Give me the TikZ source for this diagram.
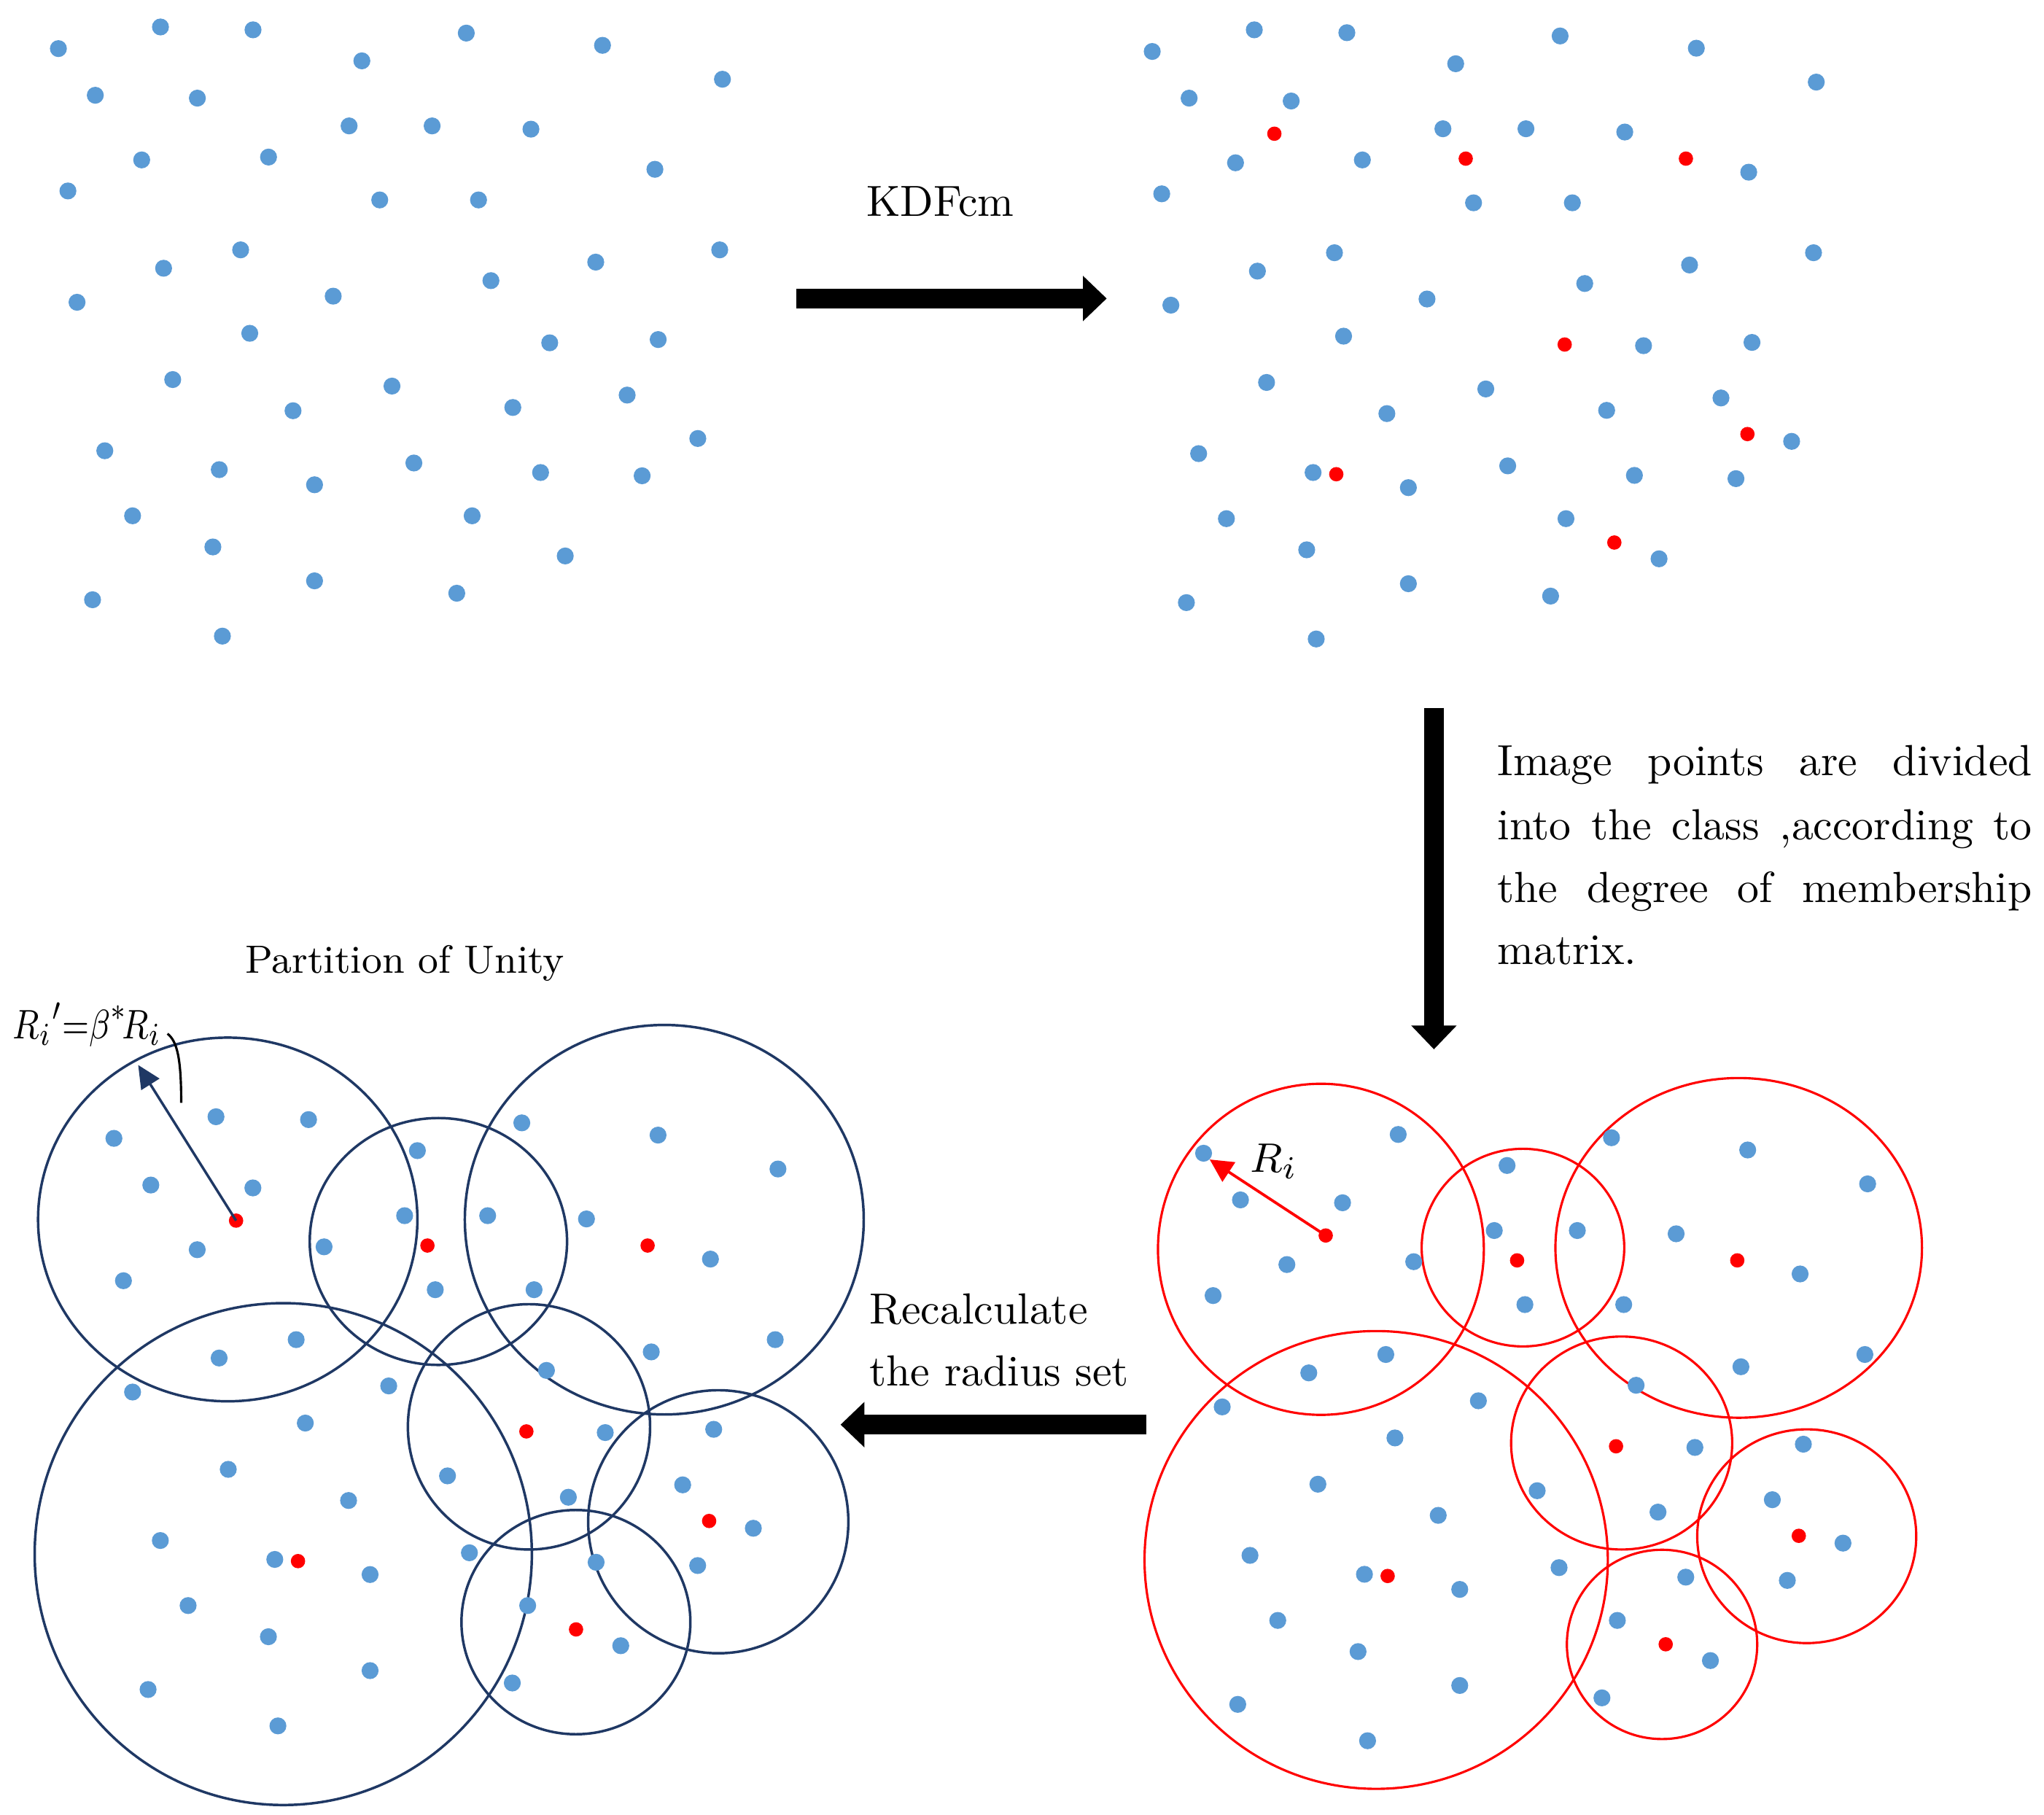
\documentclass[tikz,border=0pt]{standalone}
\usetikzlibrary{arrows.meta}
\definecolor{dotblue}{RGB}{91,155,213}
\definecolor{navyline}{RGB}{31,56,100}
\definecolor{purered}{RGB}{255,0,0}
\newcommand{\baseblue}{44.8/37.3,194.1/22.9,277.6/46.7,357.7/25.4,462.2/34.8,554.2/60.8,73.1/73.1,151.4/75.3,267.8/96.6,331.5/96.6,407.3/99.1,108.7/122.7,206/120.5,502.4/129.9,52.1/146.5,291.3/153.4,367.1/153.4,184.6/191.7,125.5/205.8,552.1/191.7,457/201.1,376.6/215.3,255.6/227.2,59.1/231.9,191.6/255.7,421.7/263,504.9/260.5,132.5/291.2,300.7/296.2,224.8/315.1,393.4/312.6,481.1/303.1,80.4/345.8,168.2/360.3,241.3/371.9,317.5/355.2,414.7/362.5,492.6/365,535.3/336.4,101.7/395.7,163.3/419.6,362.2/395.7,433.6/426.5,71/460.1,241.3/445.6,350.4/455.1,170.6/488}
\newcommand{\basered}{138.5/100.4,285.3/119.5,454.2/119.5,361.2/262.1,501.4/330.8,186/361.6,399.3/414}
\newcommand{\mainfs}{\fontsize{9.5pt}{11pt}\selectfont}
\newcommand{\smallfs}{\fontsize{8.6pt}{10pt}\selectfont}
\tikzset{
  bdot/.style={fill=dotblue},
  rdot/.style={fill=purered},
  redring/.style={draw=purered,line width=0.5pt},
  navyring/.style={draw=navyline,line width=0.55pt},
  bigarrow/.style={line width=4.3pt,-{Triangle[length=5.2pt,width=9.6pt]}},
  lbl/.style={inner sep=0pt,anchor=base west,font=\mainfs},
}
\begin{document}
\begin{tikzpicture}[x=0.01cm,y=-0.01cm]
\fill[white] (0,0) rectangle (1568,1392);
\useasboundingbox (0,0) rectangle (1568,1392);

% ---------- circles, bottom right (red)
\draw[redring] (1013.3,958.4) ellipse [x radius=125, y radius=127];
\draw[redring] (1168.3,957.1) ellipse [x radius=77.7, y radius=75.8];
\draw[redring] (1333.8,957.3) ellipse [x radius=140.6, y radius=130.3];
\draw[redring] (1055.7,1196.7) ellipse [x radius=177.7, y radius=175.6];
\draw[redring] (1244,1107) ellipse [x radius=84.8, y radius=81.7];
\draw[redring] (1386,1178.5) ellipse [x radius=84, y radius=82];
\draw[redring] (1275,1261.5) ellipse [x radius=73, y radius=72.6];

% ---------- circles, bottom left (navy)
\draw[navyring] (174.7,935.5) ellipse [x radius=145.5, y radius=139.5];
\draw[navyring] (336.3,952.4) ellipse [x radius=98.7, y radius=94.7];
\draw[navyring] (509.6,935.7) ellipse [x radius=153, y radius=149.4];
\draw[navyring] (217.3,1192.2) ellipse [x radius=190.7, y radius=192.5];
\draw[navyring] (405.8,1094.6) ellipse [x radius=92.9, y radius=94.1];
\draw[navyring] (551,1167.4) ellipse [x radius=99.8, y radius=100.9];
\draw[navyring] (441.8,1244.4) ellipse [x radius=87.8, y radius=86];

% ---------- dots: top left
\foreach \x/\y in \baseblue {\fill[bdot] (\x,\y) circle[radius=6.5];}
\fill[bdot] (123.1,20.7) circle[radius=6.5];

% ---------- dots: top right
\begin{scope}[shift={(839.1,2.2)}]
\foreach \x/\y in \baseblue {\fill[bdot] (\x,\y) circle[radius=6.5];}
\fill[bdot] (123.1,20.7) circle[radius=6.5];
\foreach \x/\y in \basered {\fill[rdot] (\x,\y) circle[radius=5.5];}
\end{scope}

% ---------- dots: bottom left
\begin{scope}[shift={(42.6,836)}]
\foreach \x/\y in \baseblue {\fill[bdot] (\x,\y) circle[radius=6.5];}
\fill[bdot] (123.1,20.7) circle[radius=6.5];
\foreach \x/\y in \basered {\fill[rdot] (\x,\y) circle[radius=5.5];}
\end{scope}

% ---------- dots: bottom right
\begin{scope}[shift={(878.5,847.4)}]
\foreach \x/\y in \baseblue {\fill[bdot] (\x,\y) circle[radius=6.5];}
\foreach \x/\y in \basered {\fill[rdot] (\x,\y) circle[radius=5.5];}
\end{scope}

% ---------- big arrows
\coordinate (k1) at (611,229);
\coordinate (k2) at (849,229);
\draw[bigarrow] (k1) -- (k2);
\coordinate (v1) at (1100,543);
\coordinate (v2) at (1100,805);
\draw[bigarrow] (v1) -- (v2);
\coordinate (h1) at (879.4,1092.9);
\coordinate (h2) at (644.8,1092.9);
\draw[bigarrow] (h1) -- (h2);

% ---------- radius arrows
\coordinate (rc) at (1017,947.8);
\coordinate (rt) at (928,889.5);
\draw[purered,line width=0.6pt,-{Triangle[length=5pt,width=5pt]}] (rc) -- (rt);
\coordinate (nc) at (181.1,936.4);
\coordinate (nt) at (106,817);
\draw[navyline,line width=0.55pt,-{Triangle[length=5pt,width=4.6pt]}] (nc) -- (nt);
\coordinate (b1) at (128.5,793);
\coordinate (b2) at (139,846);
\draw[line width=0.5pt] (b1) .. controls (136,799) and (139,812) .. (b2);

% ---------- texts
\node[lbl] (kdf) at (664,165.6) {KDFcm};
\node[lbl] (t1) at (1148,595) {\makebox[4.1cm][s]{Image points are divided}};
\node[lbl] (t2) at (1148,644) {\makebox[4.1cm][s]{into the class ,according to}};
\node[lbl] (t3) at (1148,692) {\makebox[4.1cm][s]{the degree of membership}};
\node[lbl] (t4) at (1148,740) {matrix.};
\node[lbl] (rc1) at (666.3,1015.5) {Recalculate};
\node[lbl] (rc2) at (666.3,1063) {the radius set};
\node[lbl,font=\smallfs] (pu) at (187.4,746.8) {Partition of Unity};
\node[lbl] (ri) at (958.3,899) {$R_i$};
\node[lbl] (rip) at (9.3,796.6) {\scalebox{0.82}[1]{$R_i{}'{=}\beta^{*}\!R_i$}};
\end{tikzpicture}
\end{document}
